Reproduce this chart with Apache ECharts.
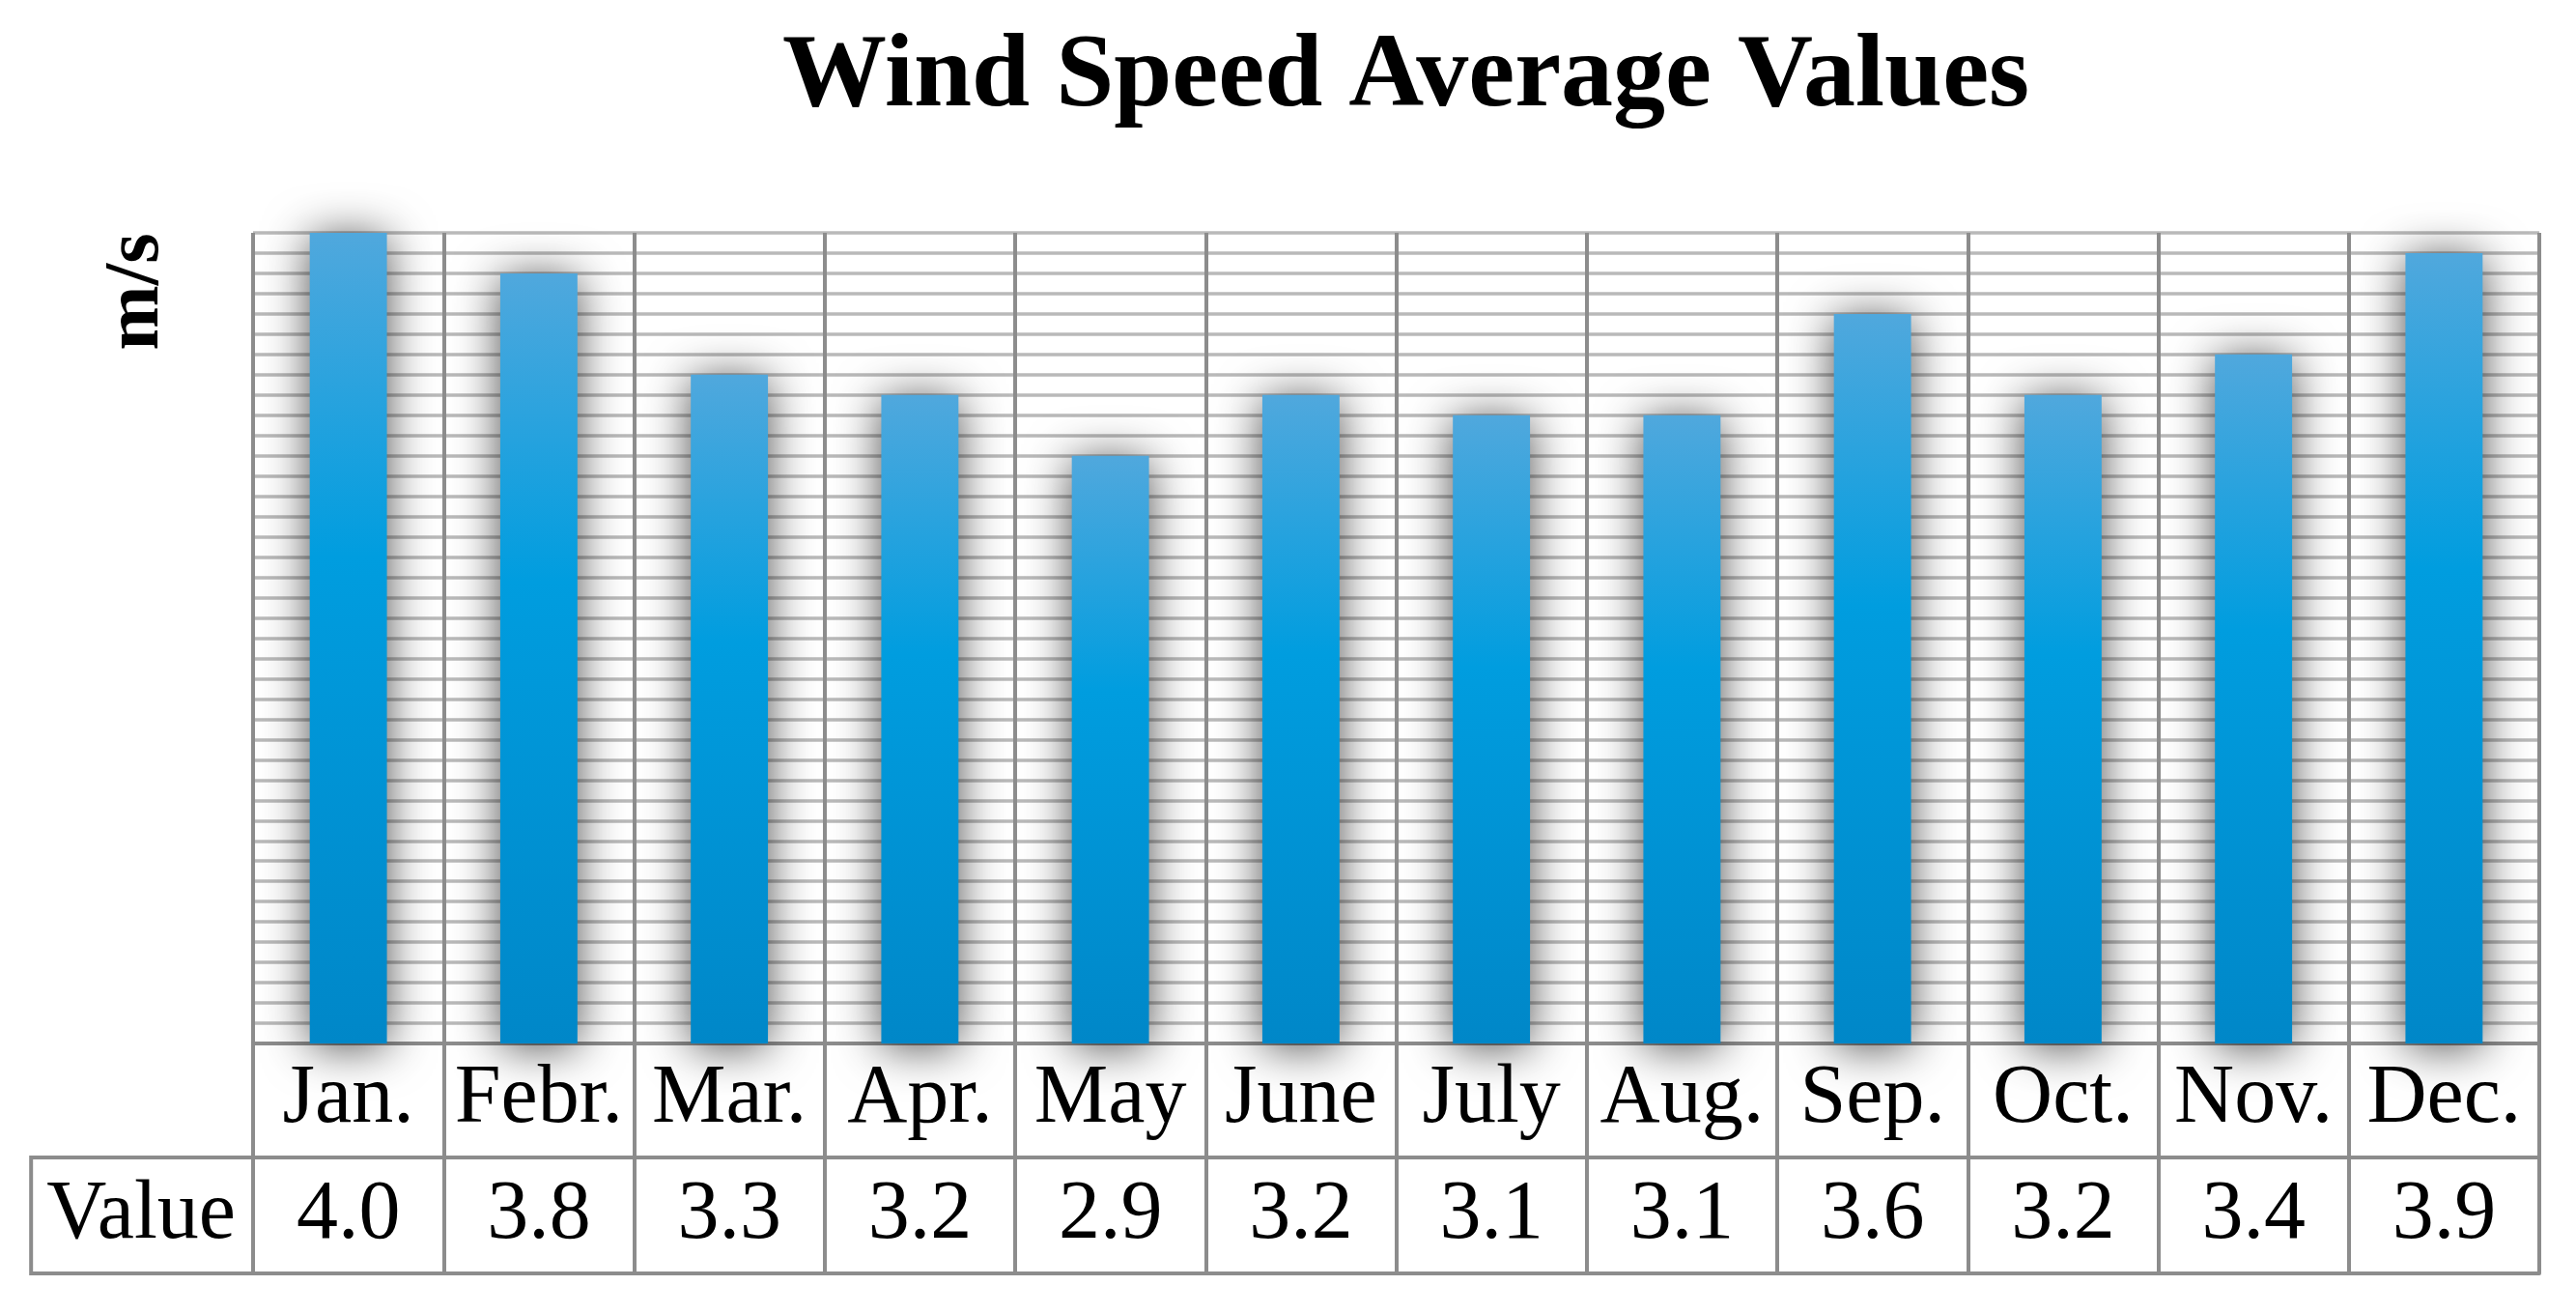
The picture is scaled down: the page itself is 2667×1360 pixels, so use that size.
<!DOCTYPE html>
<html>
<head>
<meta charset="utf-8">
<script src="https://cdn.jsdelivr.net/npm/echarts@6/dist/echarts.min.js"></script>
<style>
  html, body { margin: 0; padding: 0; background: #ffffff; }
  #chart { width: 2667px; height: 1360px; }
</style>
</head>
<body>
<div id="chart"></div>
<script>
// ---- data ----
const titleText = 'Wind Speed Average Values';
const unitText = 'm/s';
const rowHeader = 'Value';
const months = ['Jan.', 'Febr.', 'Mar.', 'Apr.', 'May', 'June', 'July', 'Aug.', 'Sep.', 'Oct.', 'Nov.', 'Dec.'];
const values = [4.0, 3.8, 3.3, 3.2, 2.9, 3.2, 3.1, 3.1, 3.6, 3.2, 3.4, 3.9];
const yMin = 0;
const yMax = 4;
const yStep = 0.1;

// ---- styles ----
const SERIF = '"Liberation Serif", "Times New Roman", serif';
const DIVIDER = '#8c8c8c';
const GRIDLINE = '#b9b9b9';

const chart = echarts.init(document.getElementById('chart'), null, { renderer: 'canvas' });

const option = {
  backgroundColor: '#ffffff',
  animation: false,
  title: {
    text: titleText,
    left: 810,
    top: 27,
    padding: 0,
    textStyle: { fontFamily: SERIF, fontWeight: 'bold', fontSize: 108, color: '#000000' }
  },
  graphic: [{
    type: 'text',
    x: 142,
    y: 302,
    rotation: Math.PI / 2,
    style: {
      text: unitText,
      font: 'bold 81px ' + SERIF,
      fill: '#000000',
      align: 'center',
      verticalAlign: 'middle'
    }
  }],
  grid: { left: 262, right: 38, top: 241, bottom: 280, containLabel: false },
  xAxis: [
    {
      type: 'category',
      data: months,
      position: 'bottom',
      boundaryGap: true,
      axisLine: { show: true, lineStyle: { color: DIVIDER, width: 4 } },
      axisTick: { show: true, interval: 0, length: 238, inside: false, lineStyle: { color: DIVIDER, width: 4 } },
      axisLabel: {
        show: true, interval: 0, margin: 58, verticalAlign: 'middle',
        fontFamily: SERIF, fontSize: 86, color: '#000000'
      },
      splitLine: { show: true, interval: 0, lineStyle: { color: DIVIDER, width: 4 } }
    },
    {
      type: 'category',
      data: values.map(v => v.toFixed(1)),
      position: 'bottom',
      offset: 118,
      boundaryGap: true,
      axisLine: { show: true, lineStyle: { color: DIVIDER, width: 4 } },
      axisTick: { show: false },
      axisLabel: {
        show: true, interval: 0, margin: 60, verticalAlign: 'middle',
        fontFamily: SERIF, fontSize: 86, color: '#000000'
      },
      splitLine: { show: false }
    },
    {
      type: 'category',
      data: months,
      position: 'bottom',
      offset: 238,
      boundaryGap: true,
      axisLine: { show: true, lineStyle: { color: DIVIDER, width: 4 } },
      axisTick: { show: false },
      axisLabel: { show: false },
      splitLine: { show: false }
    },
    {
      type: 'category',
      data: months,
      position: 'bottom',
      offset: 178,
      boundaryGap: true,
      name: rowHeader,
      nameLocation: 'start',
      nameGap: 0,
      nameTextStyle: {
        fontFamily: SERIF, fontSize: 86, color: '#000000',
        lineHeight: 120,
        width: 201,
        padding: [0, 18, 0, 16],
        borderColor: DIVIDER,
        borderWidth: 4,
        align: 'right',
        verticalAlign: 'middle'
      },
      axisLine: { show: false },
      axisTick: { show: false },
      axisLabel: { show: false },
      splitLine: { show: false }
    }
  ],
  yAxis: {
    type: 'value',
    min: yMin,
    max: yMax,
    interval: yStep,
    axisLine: { show: false },
    axisTick: { show: false },
    axisLabel: { show: false },
    splitLine: { show: true, lineStyle: { color: GRIDLINE, width: 3.5 } }
  },
  series: [{
    type: 'bar',
    data: values,
    barWidth: '40.5%',
    xAxisIndex: 0,
    itemStyle: {
      color: new echarts.graphic.LinearGradient(0, 0, 0, 1, [
        { offset: 0, color: '#50a8dd' },
        { offset: 0.4, color: '#009ddf' },
        { offset: 1, color: '#0087c8' }
      ]),
      shadowBlur: 48,
      shadowColor: 'rgba(0,0,0,0.7)',
      shadowOffsetY: 4
    }
  }]
};

chart.setOption(option);
</script>
</body>
</html>
